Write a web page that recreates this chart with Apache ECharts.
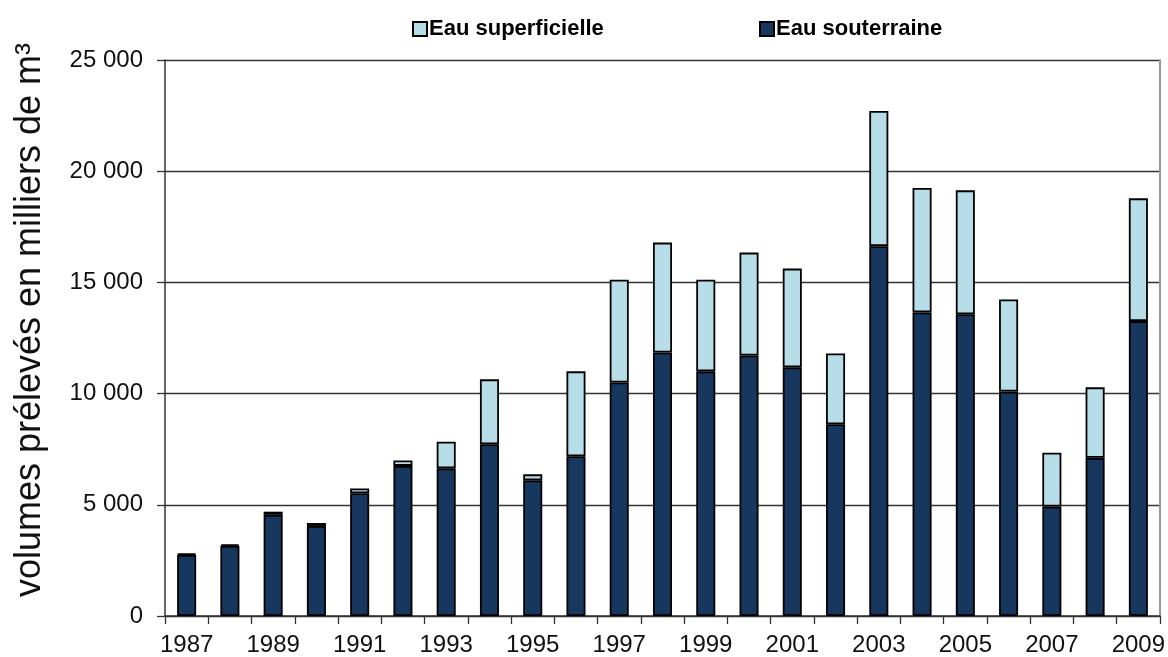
<!DOCTYPE html>
<html>
<head>
<meta charset="utf-8">
<script src="https://cdn.jsdelivr.net/npm/echarts@6/dist/echarts.min.js"></script>
<style>html,body{margin:0;padding:0;background:#fff}#c{width:1168px;height:657px}</style>
</head>
<body>
<div id="c"></div>
<script>
const years = ['1987','1988','1989','1990','1991','1992','1993','1994','1995','1996','1997','1998','1999','2000','2001','2002','2003','2004','2005','2006','2007','2008','2009'];
const eauSouterraine = [2750,3150,4550,4050,5520,6750,6640,7720,6100,7180,10500,11850,11000,11710,11180,8620,16630,13650,13570,10090,4920,7110,13260];
const eauSuperficielle = [60,70,140,130,210,240,1200,2920,270,3820,4620,4940,4120,4630,4440,3180,6080,5600,5570,4140,2420,3170,5520];
const yTicks = [0,5000,10000,15000,20000,25000];

const FONT = '"Liberation Sans", Arial, sans-serif';
const fmt = v => String(v).replace(/\B(?=(\d{3})+(?!\d))/g, ' ');

const chart = echarts.init(document.getElementById('c'), null, {renderer:'canvas'});
chart.setOption({
  animation:false,
  textStyle:{fontFamily:FONT},
  grid:{left:165,right:5,top:60,bottom:40,containLabel:false},
  legend:[
    {data:['Eau superficielle'],left:407,top:13,itemWidth:14,itemHeight:14,itemGap:4,icon:'rect',
     textStyle:{fontFamily:FONT,fontSize:22,fontWeight:'bold',color:'#000',padding:[0,0,0,-3]}},
    {data:['Eau souterraine'],left:754,top:13,itemWidth:14,itemHeight:14,icon:'rect',
     textStyle:{fontFamily:FONT,fontSize:22,fontWeight:'bold',color:'#000',padding:[0,0,0,-3]}}
  ],
  xAxis:{
    type:'category',data:years,boundaryGap:true,
    axisLine:{lineStyle:{color:'#333',width:1.5}},
    axisTick:{show:true,interval:0,length:8,lineStyle:{color:'#333',width:1.3}},
    axisLabel:{interval:1,fontSize:24,color:'#111',margin:17,fontFamily:FONT}
  },
  yAxis:[{
    type:'value',min:0,max:25000,interval:5000,
    name:'volumes prélevés en milliers de m³',nameLocation:'middle',nameGap:117,nameRotate:90,
    nameTextStyle:{fontSize:36,color:'#111',fontFamily:FONT,padding:[0,0,0,36]},
    axisLine:{show:true,lineStyle:{color:'#333',width:1.5}},
    axisTick:{show:true,length:8,lineStyle:{color:'#333',width:1.3}},
    axisLabel:{fontSize:24,color:'#111',margin:22,fontFamily:FONT,formatter:v=>fmt(v)},
    splitLine:{show:true,lineStyle:{color:'#333',width:1.3}}
  },{
    type:'value',min:0,max:25000,interval:5000,position:'right',
    axisLine:{show:true,lineStyle:{color:'#999',width:2}},
    axisTick:{show:false},axisLabel:{show:false},splitLine:{show:false}
  }],
  series:[
    {name:'Eau souterraine',type:'bar',stack:'t',data:eauSouterraine,barWidth:'44%',
     itemStyle:{color:'#17375E',borderColor:'#000',borderWidth:1.8}},
    {name:'Eau superficielle',type:'bar',stack:'t',data:eauSuperficielle,barWidth:'44%',
     itemStyle:{color:'#B7DEE8',borderColor:'#000',borderWidth:1.8}}
  ]
});
</script>
</body>
</html>
